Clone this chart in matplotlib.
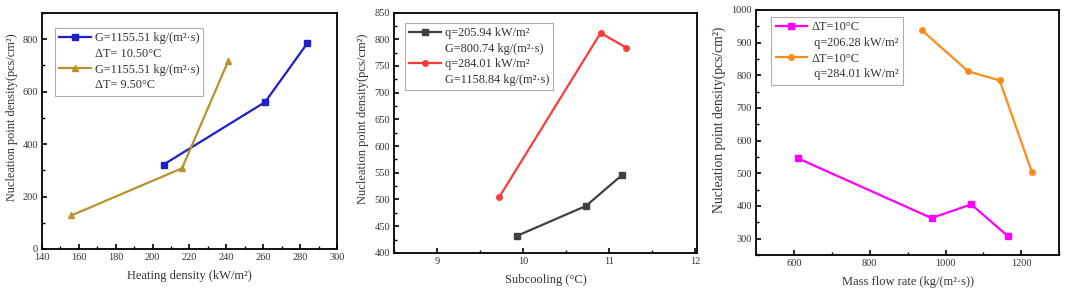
import matplotlib
matplotlib.use('Agg')
import matplotlib.pyplot as plt
from matplotlib.lines import Line2D
from matplotlib.ticker import MultipleLocator

plt.rcParams['font.family'] = ['Liberation Serif', 'DejaVu Serif']
plt.rcParams['xtick.direction'] = 'in'
plt.rcParams['ytick.direction'] = 'in'

# Panel 1: heating density
heat_q_a = [206, 261, 284]
heat_n_a = [322, 560, 785]
heat_q_b = [156, 216, 241]
heat_n_b = [128, 308, 716]
heat_labels = ['G=1155.51 kg/(m²·s)', 'ΔT= 10.50°C', 'G=1155.51 kg/(m²·s)', 'ΔT= 9.50°C']

# Panel 2: subcooling
sub_t_a = [9.93, 10.73, 11.15]
sub_n_a = [432, 488, 546]
sub_t_b = [9.72, 10.90, 11.20]
sub_n_b = [504, 812, 784]
sub_labels = ['q=205.94 kW/m²', 'G=800.74 kg/(m²·s)', 'q=284.01 kW/m²', 'G=1158.84 kg/(m²·s)']

# Panel 3: mass flow rate
flow_g_a = [610, 963, 1068, 1165]
flow_n_a = [546, 363, 405, 307]
flow_g_b = [938, 1060, 1143, 1228]
flow_n_b = [937, 812, 784, 504]
flow_labels = ['ΔT=10°C', ' q=206.28 kW/m²', 'ΔT=10°C', ' q=284.01 kW/m²']

TXT = '#333333'
YLAB = 'Nucleation point density(pcs/cm²)'


def style_axis(ax, xlim, ylim, xmaj, xmin, ymaj, ymin, ylab_pos, ylab_size):
    ax.set_xlim(*xlim)
    ax.set_ylim(*ylim)
    ax.xaxis.set_major_locator(MultipleLocator(xmaj))
    ax.xaxis.set_minor_locator(MultipleLocator(xmin))
    ax.yaxis.set_major_locator(MultipleLocator(ymaj))
    ax.yaxis.set_minor_locator(MultipleLocator(ymin))
    ax.tick_params(which='major', length=3.5, width=1.2, labelsize=7.5, colors='black',
                   labelcolor=TXT, pad=3)
    ax.tick_params(which='minor', length=2, width=1.0)
    for sp in ax.spines.values():
        sp.set_linewidth(1.3)
    ax.set_ylabel(YLAB, fontsize=ylab_size, color=TXT)
    ax.yaxis.set_label_coords(*ylab_pos)


def add_legend(ax, lines, labels, anchor):
    blank = Line2D([], [], linestyle='none')
    handles = [lines[0], blank, lines[1], blank]
    leg = ax.legend(handles, labels, loc='upper left', bbox_to_anchor=anchor,
                    fontsize=8.8, frameon=True, fancybox=False, edgecolor='#999999',
                    handlelength=2.6, handletextpad=0.3, labelspacing=0.3,
                    borderpad=0.35, borderaxespad=0)
    leg.get_frame().set_linewidth(0.8)
    for t in leg.get_texts():
        t.set_color(TXT)


fig = plt.figure(figsize=(10.65, 3.0), dpi=100)

ax1 = fig.add_axes([0.0394, 0.170, 0.277, 0.787])
l1, = ax1.plot(heat_q_a, heat_n_a, '-s', color='#1f1fc8', lw=1.6, ms=4)
l2, = ax1.plot(heat_q_b, heat_n_b, '-^', color='#b8922a', lw=1.6, ms=4.5)
style_axis(ax1, (140, 300), (0, 900), 20, 10, 200, 100, (-0.081, 0.56), 8.8)
ax1.set_xlabel('Heating density (kW/m²)', fontsize=9, color=TXT, labelpad=6)
add_legend(ax1, [l1, l2], heat_labels, (0.044, 0.936))

ax2 = fig.add_axes([0.370, 0.157, 0.2845, 0.801])
l3, = ax2.plot(sub_t_a, sub_n_a, '-s', color='#404040', lw=1.6, ms=4)
l4, = ax2.plot(sub_t_b, sub_n_b, '-o', color='#ff3a3a', lw=1.6, ms=4)
style_axis(ax2, (8.5, 12.02), (400, 850), 1, 0.5, 50, 25, (-0.083, 0.56), 9.0)
ax2.set_xlabel('Subcooling (°C)', fontsize=9, color=TXT, labelpad=6)
add_legend(ax2, [l3, l4], sub_labels, (0.036, 0.958))

ax3 = fig.add_axes([0.710, 0.150, 0.2845, 0.817])
l5, = ax3.plot(flow_g_a, flow_n_a, '-s', color='#ff00ff', lw=1.6, ms=4)
l6, = ax3.plot(flow_g_b, flow_n_b, '-o', color='#ff8c1a', lw=1.6, ms=4)
style_axis(ax3, (500, 1300), (250, 1000), 200, 100, 100, 50, (-0.099, 0.55), 9.8)
ax3.set_xlabel('Mass flow rate (kg/(m²·s))', fontsize=9, color=TXT, labelpad=6)
add_legend(ax3, [l5, l6], flow_labels, (0.05, 0.971))

fig.savefig('out.png', dpi=100)
